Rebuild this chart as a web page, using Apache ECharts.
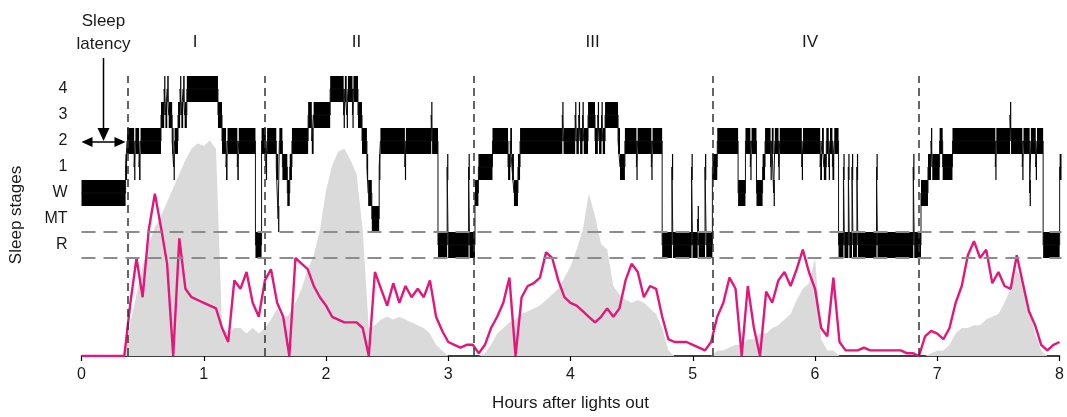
<!DOCTYPE html>
<html>
<head>
<meta charset="utf-8">
<script src="https://cdn.jsdelivr.net/npm/echarts@6.0.0/dist/echarts.min.js"></script>
<style>
  html, body { margin: 0; padding: 0; background: #fff; }
  #chart { width: 1067px; height: 417px; }
</style>
</head>
<body>
<div id="chart"></div>
<script>
// stage rows, bottom to top
const stageNames = ['R', 'MT', 'W', '1', '2', '3', '4']

// hypnogram: hour where each stage starts, and the stage
const hypnoStart = [
  0.000, 0.360, 0.372, 0.430, 0.440, 0.470, 0.482, 0.649, 0.675, 0.685,
  0.700, 0.712, 0.740, 0.752, 0.760, 0.788, 0.805, 0.815, 0.830, 0.842,
  0.860, 1.114, 1.147, 1.180, 1.192, 1.272, 1.284, 1.420, 1.470, 1.505,
  1.515, 1.590, 1.605, 1.615, 1.640, 1.680, 1.700, 1.718, 1.850, 1.880,
  1.895, 2.030, 2.140, 2.150, 2.165, 2.175, 2.212, 2.220, 2.257, 2.290,
  2.330, 2.340, 2.370, 2.430, 2.440, 2.640, 2.648, 2.855, 2.862, 2.910,
  2.985, 2.993, 3.160, 3.168, 3.212, 3.240, 3.355, 3.482, 3.500, 3.514,
  3.530, 3.563, 3.580, 3.925, 3.935, 4.030, 4.040, 4.060, 4.070, 4.090,
  4.100, 4.135, 4.192, 4.215, 4.225, 4.245, 4.255, 4.274, 4.380, 4.396,
  4.436, 4.530, 4.540, 4.652, 4.662, 4.740, 4.820, 4.828, 4.980, 4.988,
  5.030, 5.038, 5.090, 5.100, 5.150, 5.190, 5.360, 5.420, 5.460, 5.470,
  5.510, 5.560, 5.580, 5.625, 5.635, 5.650, 5.660, 5.690, 5.700, 5.880,
  5.890, 6.030, 6.045, 6.060, 6.080, 6.100, 6.110, 6.130, 6.145, 6.180,
  6.220, 6.228, 6.260, 6.268, 6.290, 6.298, 6.330, 6.338, 6.490, 6.498,
  6.790, 6.798, 6.853, 6.910, 6.935, 6.945, 7.005, 7.030, 7.110, 7.460,
  7.468, 7.580, 7.588, 7.680, 7.690, 7.740, 7.750, 7.790, 7.800, 7.850,
  7.985
]
const hypnoStage = [
  'W', '1', '2', '1', '2', '1', '2', '3', '4', '3',
  '4', '3', '2', '1', '2', '3', '4', '3', '4', '3',
  '4', '3', '2', '1', '2', '1', '2', 'R', '2', '1',
  '2', '1', 'MT', '2', '1', 'W', '1', '2', '3', '2',
  '3', '4', '3', '4', '3', '4', '3', '4', '3', '2',
  '1', 'W', 'MT', '1', '2', '1', '2', '3', '2', 'R',
  '1', 'R', '1', 'R', 'W', '1', '2', '1', '2', '1',
  'W', '1', '2', '3', '2', '3', '2', '3', '2', '3',
  '2', '3', '2', '3', '2', '3', '2', '3', '2', '1',
  '2', '1', '2', '1', '2', 'R', '1', 'R', '1', 'R',
  'MT', 'R', '1', 'R', '1', '2', 'W', '2', '1', '2',
  'W', '1', '2', '1', '2', 'W', '2', '1', '2', '1',
  '2', '1', '2', '1', '2', '1', '2', '1', '2', 'R',
  '1', 'R', '1', 'R', '1', 'R', '1', 'R', '1', 'R',
  '1', 'R', 'W', '1', '2', '1', '2', '1', '2', '1',
  '2', '3', '2', '1', '2', 'W', '2', '1', '2', 'R',
  '1'
]
const hypnoEnd = 8

// sampled traces, one value every 0.05 h from 0 to 8
const sigStep = 0.05
const greyTrace = [
  0, 0, 0, 0, 0, 0, 0, 0, 12, 22,
  32, 40, 46, 50, 55, 60, 65, 70, 74, 76,
  75, 77, 74, 10, 8, 10, 10, 8, 10, 8,
  10, 13, 17, 13, 15, 19, 24, 31, 36, 45,
  59, 68, 73, 74, 70, 65, 45, 10, 11, 13,
  14, 13, 14, 13, 12, 11, 10, 8, 4, 2,
  0, 0, 0, 0, 0, 0, 1, 4, 8, 10,
  12, 13, 15, 16, 17, 18, 20, 22, 24, 28,
  32, 38, 45, 58, 50, 40, 38, 25, 22, 20,
  19, 20, 19, 17, 15, 10, 2, 0, 0, 0,
  0, 0, 0, 0, 2, 2, 3, 4, 4, 6,
  6, 8, 8, 10, 11, 13, 15, 20, 24, 26,
  35, 6, 2, 2, 0, 0, 0, 0, 0, 0,
  0, 0, 0, 0, 0, 0, 0, 0, 0, 1,
  2, 2, 4, 8, 10, 10, 11, 11, 13, 14,
  15, 19, 24, 31, 26, 17, 8, 2, 0, 0,
  0
]
const pinkTrace = [
  0, 0, 0, 0, 0, 0, 0, 0, 19, 35,
  21, 45, 58, 46, 33, 0, 42, 24, 21, 20,
  19, 18, 17, 10, 5, 27, 24, 30, 19, 14,
  27, 31, 19, 14, 0, 35, 33, 31, 25, 21,
  18, 14, 13, 12, 12, 12, 10, 0, 30, 24,
  18, 26, 19, 25, 21, 24, 21, 27, 14, 9,
  5, 4, 3, 4, 4, 1, 4, 10, 14, 19,
  28, 0, 21, 25, 26, 28, 37, 35, 27, 21,
  19, 18, 16, 14, 12, 14, 17, 14, 17, 27,
  33, 30, 21, 25, 24, 14, 6, 5, 5, 5,
  4, 3, 2, 5, 14, 19, 28, 24, 0, 25,
  10, 0, 23, 19, 27, 30, 25, 31, 38, 30,
  24, 10, 7, 28, 5, 2, 2, 2, 3, 2,
  2, 2, 2, 2, 2, 1, 1, 0, 7, 9,
  8, 6, 10, 19, 25, 36, 41, 35, 38, 26,
  30, 25, 24, 36, 26, 16, 11, 4, 2, 4,
  5
]

// sleep cycles
const cycleBounds = [0.38, 1.505, 3.205, 5.155, 6.853]
const cycleNames = ['I', 'II', 'III', 'IV']
const cycleLabelAt = [0.93, 2.25, 4.18, 5.96]

const font = '"Liberation Sans", Arial, sans-serif'
const ink = '#1a1a1a'

const hypnoBlocks = hypnoStart.map((t, i) => [
  t,
  i < hypnoStart.length - 1 ? hypnoStart[i + 1] : hypnoEnd,
  stageNames.indexOf(hypnoStage[i])
])
const hypnoLine = hypnoBlocks.map(b => [b[0], b[2] + 0.5])
hypnoLine.push([hypnoEnd, hypnoBlocks[hypnoBlocks.length - 1][2] + 0.5])

const greyData = greyTrace.map((v, i) => [+(i * sigStep).toFixed(2), v])
const pinkData = pinkTrace.map((v, i) => [+(i * sigStep).toFixed(2), v])

const chart = echarts.init(document.getElementById('chart'))

chart.setOption({
  animation: false,
  grid: [
    {left: 81.5, right: 5.5, top: 76, height: 182},
    {left: 81.5, right: 5.5, top: 76, bottom: 60}
  ],
  xAxis: [
    {gridIndex: 0, type: 'value', min: 0, max: 8, show: false},
    {
      gridIndex: 1, type: 'value', min: 0, max: 8, interval: 1,
      name: 'Hours after lights out', nameLocation: 'middle', nameGap: 39,
      nameTextStyle: {fontFamily: font, fontSize: 17, color: ink},
      axisLine: {lineStyle: {color: '#000', width: 1.5}},
      axisTick: {length: 5, lineStyle: {color: '#000', width: 1.2}},
      axisLabel: {margin: 11, fontFamily: font, fontSize: 16, color: ink},
      splitLine: {show: false}
    }
  ],
  yAxis: [
    {
      gridIndex: 0, type: 'value', min: 0, max: 7, interval: 0.5,
      axisLine: {show: false}, axisTick: {show: false}, splitLine: {show: false},
      axisLabel: {
        margin: 14, fontFamily: font, fontSize: 16, color: ink,
        formatter: function (v) {
          const i = v - 0.5
          return Number.isInteger(i) && i >= 0 && i < stageNames.length ? stageNames[i] : ''
        }
      }
    },
    {gridIndex: 1, type: 'value', min: 0, max: 100, show: false}
  ],
  series: [
    {
      name: 'grey', type: 'line', xAxisIndex: 1, yAxisIndex: 1, z: 1,
      data: greyData, symbol: 'none', silent: true,
      lineStyle: {width: 0}, areaStyle: {color: '#dadada', opacity: 1}
    },
    {
      name: 'cycles', type: 'line', xAxisIndex: 1, yAxisIndex: 1, z: 2, data: [],
      markLine: {
        silent: true, symbol: 'none', label: {show: false},
        lineStyle: {color: '#333', type: [8, 5], width: 1.5},
        data: cycleBounds.map(h => ({xAxis: h}))
      }
    },
    {
      name: 'rband', type: 'line', xAxisIndex: 0, yAxisIndex: 0, z: 2, data: [],
      markLine: {
        silent: true, symbol: 'none', label: {show: false},
        lineStyle: {color: '#8c8c8c', type: [14, 8], width: 2},
        data: [{yAxis: 0}, {yAxis: 1}]
      }
    },
    {
      name: 'hypnogram', type: 'custom', xAxisIndex: 0, yAxisIndex: 0, z: 3,
      data: hypnoBlocks, encode: {x: [0, 1], y: 2}, silent: true,
      renderItem: function (params, api) {
        const p0 = api.coord([api.value(0), api.value(2) + 1])
        const p1 = api.coord([api.value(1), api.value(2)])
        return {
          type: 'rect',
          shape: {x: p0[0], y: p0[1], width: Math.max(p1[0] - p0[0], 1.2), height: p1[1] - p0[1]},
          style: {fill: '#000'}
        }
      }
    },
    {
      name: 'hypnoline', type: 'line', xAxisIndex: 0, yAxisIndex: 0, z: 3,
      data: hypnoLine, step: 'end', symbol: 'none', silent: true,
      lineStyle: {color: '#111', width: 1}
    },
    {
      name: 'pink', type: 'line', xAxisIndex: 1, yAxisIndex: 1, z: 4,
      data: pinkData, symbol: 'none', silent: true,
      lineStyle: {color: '#e2177c', width: 2.4}
    }
  ]
})

// annotations placed from the axis scale
const px = h => chart.convertToPixel({gridIndex: 1}, [h, 0])[0]
const x0 = px(0)
const x1 = px(hypnoStart[1])
const xm = (x0 + x1) / 2
const textStyle = (t) => ({text: t, font: '17px ' + font, fill: ink, align: 'center', verticalAlign: 'middle'})

const graphics = cycleNames.map((n, i) => ({type: 'text', x: px(cycleLabelAt[i]), y: 42, style: textStyle(n)}))
graphics.push(
  {type: 'text', x: xm, y: 21, style: textStyle('Sleep')},
  {type: 'text', x: xm, y: 44, style: textStyle('latency')},
  {type: 'text', x: 16, y: 215, rotation: Math.PI / 2, style: textStyle('Sleep stages')},
  {type: 'line', shape: {x1: xm, y1: 58, x2: xm, y2: 130}, style: {stroke: '#000', lineWidth: 1.5}},
  {type: 'polygon', shape: {points: [[xm - 6, 128], [xm + 6, 128], [xm, 141]]}, style: {fill: '#000'}},
  {type: 'line', shape: {x1: x0 + 8, y1: 142, x2: x1 - 8, y2: 142}, style: {stroke: '#000', lineWidth: 1.5}},
  {type: 'polygon', shape: {points: [[x0, 142], [x0 + 11, 137], [x0 + 11, 147]]}, style: {fill: '#000'}},
  {type: 'polygon', shape: {points: [[x1, 142], [x1 - 11, 137], [x1 - 11, 147]]}, style: {fill: '#000'}}
)
chart.setOption({graphic: graphics})
</script>
</body>
</html>
